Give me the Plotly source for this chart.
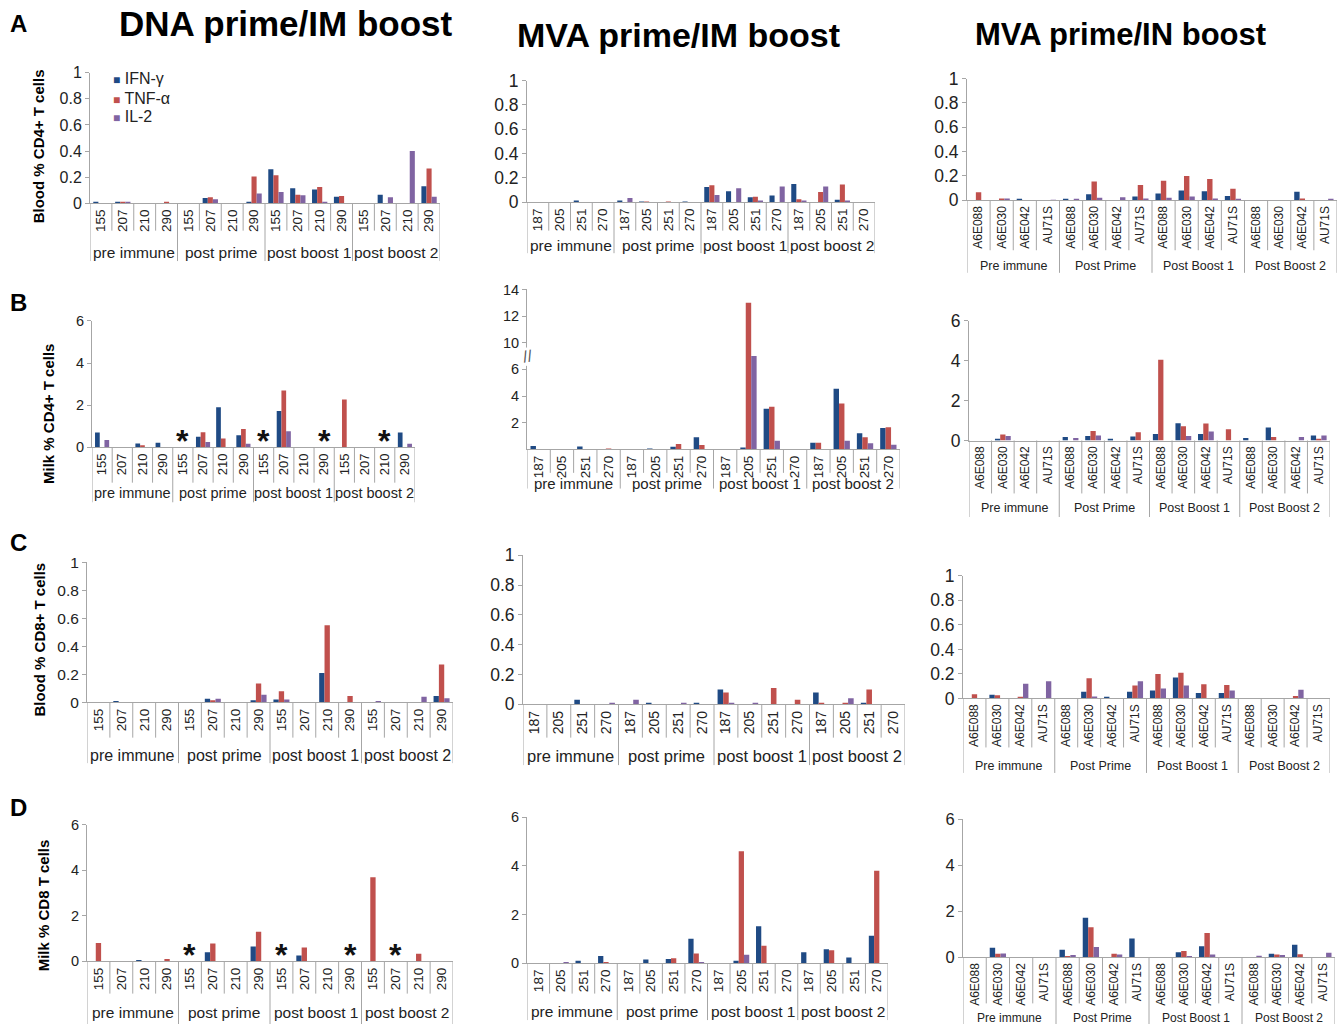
import plotly.graph_objects as go

W, H = 1344, 1034

# ---------------- categories ----------------
DNA_ANIMALS = ["155", "207", "210", "290"]
IM_ANIMALS = ["187", "205", "251", "270"]
IN_ANIMALS = ["A6E088", "A6E030", "A6E042", "AU71S"]
TIMEPOINTS = ["pre immune", "post prime", "post boost 1", "post boost 2"]
TIMEPOINTS_IN = ["Pre immune", "Post Prime", "Post Boost 1", "Post Boost 2"]
CYTOKINES = ["IFN-γ", "TNF-α", "IL-2"]
COLUMN_TITLES = ["DNA prime/IM boost", "MVA prime/IM boost", "MVA prime/IN boost"]
ROW_LETTERS = ["A", "B", "C", "D"]
ROW_YTITLES = ["Blood % CD4+ T cells", "Milk % CD4+ T cells",
               "Blood % CD8+ T cells", "Milk % CD8 T cells"]

# ---------------- values (16 per series: timepoint-major, animal-minor) -------------
# Row A: Blood % CD4+
A1_IFN = [0.005, 0.01, 0, 0, 0, 0.04, 0, 0.01, 0.26, 0.115, 0.105, 0.05, 0, 0.065, 0, 0.13]
A1_TNF = [0, 0.005, 0, 0.005, 0, 0.045, 0, 0.205, 0.215, 0.065, 0.125, 0.055, 0, 0, 0, 0.265]
A1_IL2 = [0, 0.01, 0, 0, 0, 0.03, 0, 0.075, 0.085, 0.06, 0.01, 0, 0, 0.045, 0.40, 0.05]

A2_IFN = [0, 0, 0.005, 0, 0.005, 0.003, 0, 0.003, 0.125, 0.09, 0.04, 0.055, 0.15, 0, 0.02, 0]
A2_TNF = [0, 0, 0, 0, 0, 0.003, 0.003, 0, 0.14, 0, 0.045, 0, 0.025, 0.085, 0.145, 0]
A2_IL2 = [0, 0, 0, 0, 0.035, 0, 0, 0, 0.06, 0.115, 0.005, 0.13, 0.005, 0.13, 0.005, 0]

A3_IFN = [0, 0, 0.01, 0, 0.01, 0.05, 0, 0.03, 0.055, 0.08, 0.075, 0.035, 0, 0, 0.07, 0]
A3_TNF = [0.065, 0.015, 0, 0, 0, 0.155, 0, 0.125, 0.16, 0.2, 0.175, 0.095, 0, 0, 0.015, 0]
A3_IL2 = [0, 0.015, 0, 0.002, 0.005, 0.02, 0.025, 0.015, 0.02, 0.03, 0.015, 0.005, 0, 0, 0, 0.01]

# Row B: Milk % CD4+
B1_IFN = [0.7, 0, 0.18, 0.22, 0, 0.5, 1.9, 0.57, 0, 1.72, 0, 0, 0, 0, 0, 0.7]
B1_TNF = [0, 0, 0.1, 0, 0, 0.72, 0.42, 0.87, 0, 2.7, 0, 0, 2.27, 0, 0, 0]
B1_IL2 = [0.35, 0, 0, 0, 0, 0.25, 0, 0.17, 0, 0.76, 0, 0, 0, 0, 0, 0.17]
B1_MISSING = [4, 8, 11, 14]

B2_IFN = [0.25, 0, 0.22, 0, 0, 0.05, 0.2, 0.9, 0, 0.12, 3.05, 0, 0.5, 4.55, 1.2, 1.6]
B2_TNF = [0, 0, 0, 0.03, 0, 0, 0.4, 0.32, 0, 13.0, 3.2, 0, 0.5, 3.45, 0.9, 1.65]
B2_IL2 = [0, 0, 0, 0, 0, 0, 0, 0, 0, 8.0, 0.65, 0, 0, 0.65, 0.45, 0.35]

B3_IFN = [0, 0.07, 0, 0, 0.18, 0.22, 0.07, 0.2, 0.33, 0.87, 0.33, 0, 0.12, 0.65, 0, 0.25]
B3_TNF = [0, 0.3, 0, 0, 0, 0.48, 0, 0.42, 4.05, 0.72, 0.85, 0.57, 0, 0.18, 0, 0.05]
B3_IL2 = [0, 0.22, 0, 0, 0.12, 0.25, 0, 0, 0, 0.22, 0.45, 0, 0, 0, 0.18, 0.25]

# Row C: Blood % CD8+
C1_IFN = [0, 0.01, 0, 0, 0, 0.025, 0, 0.015, 0.02, 0, 0.21, 0, 0, 0, 0, 0.045]
C1_TNF = [0, 0, 0, 0, 0, 0.015, 0, 0.135, 0.08, 0, 0.55, 0.045, 0, 0, 0, 0.27]
C1_IL2 = [0, 0, 0, 0, 0, 0.025, 0, 0.055, 0.02, 0, 0, 0, 0.005, 0, 0.04, 0.03]

C2_IFN = [0, 0, 0.03, 0, 0, 0.01, 0, 0.01, 0.1, 0, 0, 0, 0.08, 0, 0.01, 0]
C2_TNF = [0, 0, 0, 0, 0, 0, 0, 0, 0.08, 0, 0.11, 0.03, 0.01, 0.01, 0.1, 0]
C2_IL2 = [0, 0, 0, 0.01, 0.03, 0, 0.01, 0, 0.01, 0.01, 0, 0, 0, 0.04, 0, 0]

C3_IFN = [0, 0.03, 0, 0, 0, 0.055, 0.005, 0.055, 0.065, 0.17, 0.045, 0.045, 0, 0, 0, 0]
C3_TNF = [0.035, 0.025, 0.005, 0, 0, 0.165, 0, 0.105, 0.2, 0.21, 0.115, 0.11, 0, 0, 0.02, 0]
C3_IL2 = [0, 0, 0.12, 0.14, 0, 0.015, 0, 0.14, 0.08, 0.105, 0, 0.065, 0, 0, 0.07, 0]

# Row D: Milk % CD8
D1_IFN = [0, 0, 0.05, 0, 0, 0.4, 0, 0.65, 0, 0.25, 0, 0, 0, 0, 0, 0]
D1_TNF = [0.8, 0, 0, 0.1, 0, 0.78, 0, 1.3, 0, 0.6, 0, 0, 3.7, 0, 0.33, 0]
D1_IL2 = [0, 0, 0, 0, 0, 0, 0, 0, 0, 0, 0, 0, 0, 0, 0, 0]
D1_MISSING = [4, 8, 11, 13]

D2_IFN = [0, 0, 0.1, 0.3, 0, 0.15, 0.17, 1.0, 0, 0.1, 1.52, 0, 0.45, 0.57, 0.23, 1.13]
D2_TNF = [0, 0, 0, 0.05, 0, 0, 0.2, 0.4, 0, 4.6, 0.72, 0, 0, 0.53, 0, 3.8]
D2_IL2 = [0, 0.03, 0, 0, 0, 0, 0, 0.05, 0, 0.35, 0, 0, 0, 0, 0, 0]

D3_IFN = [0, 0.42, 0, 0, 0.33, 1.72, 0, 0.82, 0, 0.22, 0.48, 0, 0, 0.15, 0.55, 0]
D3_TNF = [0, 0.15, 0, 0, 0.03, 1.3, 0.15, 0, 0, 0.27, 1.05, 0, 0, 0.12, 0.13, 0]
D3_IL2 = [0, 0.17, 0, 0, 0.1, 0.45, 0.12, 0, 0, 0.03, 0.12, 0, 0.07, 0.1, 0, 0.2]

# B2 broken axis tick labels
B2_TICKVALS_REAL = [2, 4, 6, 10, 12, 14]

COLORS = ["#1F4A84", "#C0504D", "#8064A2"]
GRID = "#A6A6A6"
FONT = "Liberation Sans"


def brk(v):
    """Broken-axis mapping for panel B2 (6..10 compressed)."""
    if v <= 6:
        return v
    if v < 10:
        return 6 + (v - 6) * 0.5
    return v - 2


# panel layout: (series, animals, timepoints, ymax, dtick, left, right, top, base,
#                tickbot, grouplabel_y, groupbot, ytickfont, xtickfont, groupfont, missing, broken)
PANELS = [
    ((A1_IFN, A1_TNF, A1_IL2), DNA_ANIMALS, TIMEPOINTS, 1, 0.2, 90, 440, 64, 197, 225, 247, 256, 16, 13.5, 15.5, [], False),
    ((A2_IFN, A2_TNF, A2_IL2), IM_ANIMALS, TIMEPOINTS, 1, 0.2, 527, 875, 72, 196, 225, 240, 248, 17.5, 13.5, 15.5, [], False),
    ((A3_IFN, A3_TNF, A3_IL2), IN_ANIMALS, TIMEPOINTS_IN, 1, 0.2, 967, 1337, 70, 194, 245, 261, 268, 17.5, 12, 12.5, [], False),
    ((B1_IFN, B1_TNF, B1_IL2), DNA_ANIMALS, TIMEPOINTS, 6, 2, 92, 415, 317, 446, 482, 493, 502, 14.5, 13, 14.5, B1_MISSING, False),
    ((B2_IFN, B2_TNF, B2_IL2), IM_ANIMALS, TIMEPOINTS, 12, 2, 527, 900, 285, 448, 472, 483, 488, 14.5, 13.5, 15, [], True),
    ((B3_IFN, B3_TNF, B3_IL2), IN_ANIMALS, TIMEPOINTS_IN, 6, 2, 969, 1330, 317, 439, 493, 508, 517, 17.5, 12, 12.5, [], False),
    ((C1_IFN, C1_TNF, C1_IL2), DNA_ANIMALS, TIMEPOINTS, 1, 0.2, 87, 453, 563, 706, 742, 760, 768, 15.5, 13.5, 16, [], False),
    ((C2_IFN, C2_TNF, C2_IL2), IM_ANIMALS, TIMEPOINTS, 1, 0.2, 523, 905, 556, 708, 742, 761, 770, 17.5, 14, 16.5, [], False),
    ((C3_IFN, C3_TNF, C3_IL2), IN_ANIMALS, TIMEPOINTS_IN, 1, 0.2, 963, 1330, 577, 702, 752, 771, 778, 17.5, 12, 12.5, [], False),
    ((D1_IFN, D1_TNF, D1_IL2), DNA_ANIMALS, TIMEPOINTS, 6, 2, 87, 453, 831, 970, 1003, 1022, 1034, 14.5, 13.5, 15.5, D1_MISSING, False),
    ((D2_IFN, D2_TNF, D2_IL2), IM_ANIMALS, TIMEPOINTS, 6, 2, 527, 888, 823, 972, 1003, 1021, 1030, 14.5, 13.5, 15.5, [], False),
    ((D3_IFN, D3_TNF, D3_IL2), IN_ANIMALS, TIMEPOINTS_IN, 6, 2, 963, 1335, 825, 966, 1013, 1028, 1034, 16.5, 12, 12, [], False),
]


def fx(px):
    return px / W


def fy(py):
    return 1 - py / H


fig = go.Figure()
layout = dict(
    width=W, height=H, margin=dict(l=0, r=0, t=0, b=0),
    paper_bgcolor="white", plot_bgcolor="white",
    showlegend=False, barmode="group", bargap=0.3, bargroupgap=0,
    font=dict(family=FONT, color="#222"),
)
shapes = []
annotations = []

for k, p in enumerate(PANELS, start=1):
    (series, animals, tps, ymax, dtick, left, right, top, base,
     tickbot, glab, gbot, ytf, xtf, gtf, missing, broken) = p
    xs = list(range(len(tps) * len(animals)))
    ticktext = [a for _ in tps for a in animals]
    xa = "x" if k == 1 else f"x{k}"
    ya = "y" if k == 1 else f"y{k}"
    for name, vals, col in zip(CYTOKINES, series, COLORS):
        yv = [brk(v) for v in vals] if broken else list(vals)
        fig.add_trace(go.Bar(x=xs, y=yv, name=name, marker=dict(color=col, line=dict(width=0)),
                             xaxis=xa, yaxis=ya, customdata=vals,
                             hovertemplate="%{customdata}<extra>" + name + "</extra>"))
    xkey = "xaxis" if k == 1 else f"xaxis{k}"
    ykey = "yaxis" if k == 1 else f"yaxis{k}"
    layout[xkey] = dict(domain=[fx(left), fx(right)], anchor=ya, range=[-0.5, len(xs) - 0.5],
                        tickmode="array", tickvals=xs, ticktext=ticktext, tickangle=-90,
                        tickfont=dict(size=xtf, family=FONT, color="#222"),
                        showline=True, linecolor=GRID, linewidth=1, ticks="",
                        showgrid=False, zeroline=False, fixedrange=True)
    ydict = dict(domain=[fy(base), fy(top)], anchor=xa, range=[0, ymax],
                 showline=True, linecolor=GRID, linewidth=1, ticks="outside",
                 ticklen=4, tickcolor=GRID, showgrid=False, zeroline=False,
                 tickfont=dict(size=ytf, family=FONT, color="#222"), fixedrange=True)
    if broken:
        ydict.update(tickmode="array", tickvals=[brk(v) for v in B2_TICKVALS_REAL],
                     ticktext=[str(v) for v in B2_TICKVALS_REAL])
    else:
        ydict.update(tick0=0, dtick=dtick)
    layout[ykey] = ydict

    # category / group dividers
    n = len(xs)
    for i in range(n + 1):
        bottom = gbot if i % len(animals) == 0 else tickbot
        shapes.append(dict(type="line", xref=xa, yref="paper", x0=i - 0.5, x1=i - 0.5,
                           y0=fy(base), y1=fy(bottom), line=dict(color=GRID, width=1)))
    for g, tp in enumerate(tps):
        annotations.append(dict(xref=xa, yref="paper", x=g * len(animals) + (len(animals) - 1) / 2,
                                y=fy(glab), text=tp, showarrow=False, xanchor="center",
                                yanchor="middle", font=dict(size=gtf, family=FONT, color="#222")))
    for m in missing:
        annotations.append(dict(xref=xa, yref=ya, x=m, y=0, text="<b>*</b>", showarrow=False,
                                xanchor="center", yanchor="bottom", yshift=-14,
                                font=dict(size=32, family=FONT, color="#111")))
    if broken:
        annotations.append(dict(xref="paper", yref=ya, x=fx(left), y=brk(8), text="//",
                                showarrow=False, xanchor="center", yanchor="middle",
                                textangle=-10, font=dict(size=16, family=FONT, color="#555"),
                                bgcolor="white", borderpad=0))

# column titles
for txt, cx, cy, fs in zip(COLUMN_TITLES, [285, 678, 1120], [14, 25, 25], [35, 34, 31]):
    annotations.append(dict(xref="paper", yref="paper", x=fx(cx), y=fy(cy), text=f"<b>{txt}</b>",
                            showarrow=False, xanchor="center", yanchor="middle",
                            font=dict(size=fs, family=FONT, color="#000")))
# row letters
for letter, ly in zip(ROW_LETTERS, [14, 298, 543, 813]):
    annotations.append(dict(xref="paper", yref="paper", x=fx(18), y=fy(ly), text=f"<b>{letter}</b>",
                            showarrow=False, xanchor="center", yanchor="middle",
                            font=dict(size=24, family=FONT, color="#000")))
# row y-axis titles
for txt, tx, ty in zip(ROW_YTITLES, [38, 48, 40, 43], [139, 412, 642, 913]):
    annotations.append(dict(xref="paper", yref="paper", x=fx(tx), y=fy(ty), text=f"<b>{txt}</b>",
                            showarrow=False, xanchor="center", yanchor="middle", textangle=-90,
                            font=dict(size=15, family=FONT, color="#000")))
# legend (panel A1)
for name, col, ly in zip(CYTOKINES, COLORS, [70, 90, 109]):
    annotations.append(dict(xref="paper", yref="paper", x=fx(111), y=fy(ly),
                            text=f"<span style='color:{col};font-size:12px'>■</span> {name}",
                            showarrow=False, xanchor="left", yanchor="middle",
                            font=dict(size=16, family=FONT, color="#222")))

layout["shapes"] = shapes
layout["annotations"] = annotations
fig.update_layout(**layout)
fig.write_html("out.html")
